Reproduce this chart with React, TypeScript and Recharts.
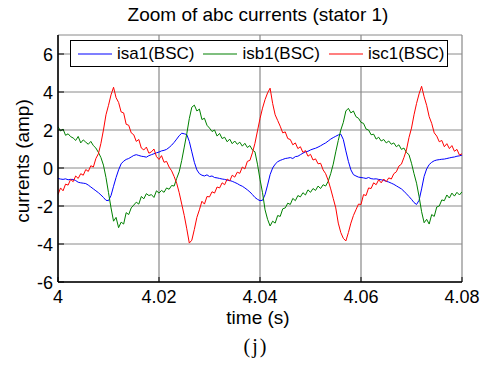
import React from 'react';
import { LineChart, Line, XAxis, YAxis, CartesianGrid } from 'recharts';

// sampling grid: 0.5 ms steps from 4.000 s to 4.080 s
const T_START = 4;
const T_STEP = 0.0005;

const xTicks = [4, 4.02, 4.04, 4.06, 4.08];
const yTicks = [-6, -4, -2, 0, 2, 4, 6];

const seriesNames = ['isa1(BSC)', 'isb1(BSC)', 'isc1(BSC)'];
const seriesColors = ['#0000ff', '#008000', '#ff0000'];

// phase a current (blue)
const isa1 = [
  -0.55, -0.58, -0.6, -0.57, -0.62, -0.6, -0.6, -0.66, -0.75, -0.78,
  -0.8, -0.82, -0.9, -1.0, -1.1, -1.2, -1.3, -1.42, -1.55, -1.7,
  -1.72, -1.45, -0.96, -0.5, -0.1, 0.22, 0.36, 0.45, 0.5, 0.58,
  0.66, 0.7, 0.66, 0.62, 0.6, 0.57, 0.65, 0.7, 0.75, 0.8,
  0.84, 0.9, 0.93, 0.98, 1.08, 1.2, 1.35, 1.52, 1.7, 1.83,
  1.8, 1.76, 1.4, 0.85, 0.3, -0.1, -0.3, -0.38, -0.42, -0.36,
  -0.45, -0.42, -0.5, -0.52, -0.55, -0.58, -0.6, -0.64, -0.66, -0.7,
  -0.76, -0.82, -0.9, -0.96, -1.05, -1.15, -1.26, -1.4, -1.55, -1.65,
  -1.72, -1.7, -1.4, -0.9, -0.35, 0.0, 0.2, 0.33, 0.4, 0.45,
  0.5, 0.52, 0.55, 0.5, 0.6, 0.62, 0.7, 0.78, 0.85, 0.88,
  0.95, 1.0, 1.04, 1.1, 1.17, 1.25, 1.32, 1.42, 1.52, 1.6,
  1.67, 1.74, 1.78, 1.5, 0.9, 0.35, -0.1, -0.35, -0.42, -0.48,
  -0.5, -0.52, -0.55, -0.5, -0.56, -0.58, -0.57, -0.6, -0.62, -0.65,
  -0.7, -0.74, -0.8, -0.86, -0.94, -1.02, -1.1, -1.22, -1.36, -1.5,
  -1.65, -1.82, -1.92, -1.7, -1.1, -0.44, -0.05, 0.18, 0.3, 0.38,
  0.42, 0.44, 0.46, 0.47, 0.5, 0.53, 0.56, 0.58, 0.62, 0.64,
  0.68,
];

// phase b current (green)
const isb1 = [
  2.18, 1.95, 2.05, 1.72, 1.8, 1.65, 1.58, 1.45, 1.66, 1.32,
  1.48, 1.36, 1.25, 1.4, 1.18, 1.05, 0.82, 0.55, 0.15, -0.5,
  -1.3, -2.1, -2.8, -2.6, -3.14, -2.85, -2.95, -2.35, -2.45, -2.1,
  -1.95, -1.8, -1.9, -1.5, -1.62, -1.35, -1.45, -1.4, -1.55, -1.2,
  -1.32, -1.18, -1.28, -1.05, -1.12, -0.92, -0.95, -0.55, -0.2, 0.4,
  1.1, 1.8, 2.6, 3.2, 3.31, 3.0, 3.1, 2.55, 2.62, 2.25,
  2.1, 1.92, 2.0, 1.68, 1.82, 1.55, 1.62, 1.38, 1.52, 1.28,
  1.42, 1.25, 1.36, 1.15, 1.3, 1.08, 1.18, 0.95, 0.85, 0.2,
  -0.6, -1.3, -2.2, -2.7, -3.05, -2.8, -2.9, -2.5, -2.55, -2.15,
  -2.1, -1.85, -1.92, -1.6, -1.72, -1.45, -1.52, -1.3, -1.42, -1.15,
  -1.28, -1.08, -1.18, -0.95, -1.08, -0.88, -0.95, -0.7, -0.3, 0.2,
  0.85, 1.45, 2.0, 2.4, 3.0, 3.14, 2.9, 3.0, 2.7, 2.62,
  2.4, 2.35, 2.05, 2.0, 1.75, 1.78, 1.52, 1.62, 1.42, 1.5,
  1.32, 1.42, 1.25, 1.32, 1.12, 1.22, 0.98, 1.05, 0.82, 0.7,
  0.25, -0.3, -0.8, -1.5, -2.3, -2.88, -2.7, -2.95, -2.45, -2.55,
  -2.05, -2.0, -1.68, -1.72, -1.42, -1.58, -1.32, -1.48, -1.28, -1.42,
  -1.25,
];

// phase c current (red)
const isc1 = [
  -1.4, -1.05, -1.2, -0.85, -0.9, -0.6, -0.72, -0.42, -0.55, -0.3,
  -0.38, -0.08, -0.18, 0.12, 0.05, 0.5, 0.75, 1.3, 2.0, 2.8,
  3.3, 3.85, 4.25, 3.7, 3.45, 2.95, 2.9, 2.3, 2.25, 1.85,
  1.75, 1.4, 1.5, 1.05, 0.95, 1.1, 0.78, 0.85, 1.0, 0.6,
  0.45, 0.65, 0.3, 0.35, 0.05, -0.15, -0.45, -0.8, -1.3, -1.9,
  -2.5, -3.2, -3.95, -3.8, -3.23, -2.6, -2.2, -1.75, -1.9, -1.5,
  -1.52, -1.25, -1.32, -1.0, -1.05, -0.78, -0.88, -0.58, -0.68, -0.38,
  -0.48, -0.22, -0.28, 0.05, -0.05, 0.35, 0.4, 0.8, 1.3, 1.95,
  2.6, 3.15, 3.6, 3.95, 4.2, 3.4, 2.8, 2.5, 2.2, 1.85,
  1.9, 1.55, 1.5, 1.22, 1.32, 1.02, 1.12, 0.82, 0.92, 0.62,
  0.72, 0.42, 0.48, 0.22, 0.25, -0.1, -0.3, -0.65, -1.1, -1.6,
  -2.1, -2.9, -3.4, -3.7, -3.84, -3.4, -2.9, -2.5, -2.2, -1.9,
  -1.92, -1.4, -1.45, -1.05, -1.08, -0.78, -0.88, -0.62, -0.78, -0.58,
  -0.72, -0.52, -0.58, -0.3, -0.2, 0.1, 0.2, 0.55, 0.95, 1.6,
  2.1, 2.8, 3.4, 3.9, 4.3, 3.75, 3.3, 2.7, 2.35, 1.85,
  1.68, 1.38, 1.45, 1.12, 1.28, 1.02, 1.18, 0.88, 0.98, 0.68,
  0.75,
];

const chartData = isa1.map((v, i) => ({
  t: T_START + i * T_STEP,
  isa1: v,
  isb1: isb1[i],
  isc1: isc1[i],
}));

const FONT = '"Liberation Sans", Arial, sans-serif';

const fmtX = (v: number) => (Math.abs(v - 4) < 1e-9 ? '4' : v.toFixed(2));

// bottom axis: label below, small tick pointing up into the plot
const BottomTick = (props: any) => {
  const { x, y, payload } = props;
  const axisY = y - 8;
  return (
    <g>
      <line x1={x} x2={x} y1={axisY} y2={axisY - 5} stroke="#000" />
      <text x={x} y={y + 13} textAnchor="middle" fontFamily={FONT} fontSize={18} fill="#000">
        {fmtX(payload.value)}
      </text>
    </g>
  );
};

const LeftTick = (props: any) => {
  const { x, y, payload } = props;
  const axisX = x + 5;
  return (
    <g>
      <line x1={axisX} x2={axisX + 6} y1={y} y2={y} stroke="#000" />
      <text x={x} y={y + 6.5} textAnchor="end" fontFamily={FONT} fontSize={18} fill="#000">
        {payload.value}
      </text>
    </g>
  );
};

const RightTick = (props: any) => (
  <line x1={props.x} x2={props.x - 6} y1={props.y} y2={props.y} stroke="#000" />
);

const TopTick = (props: any) => (
  <line x1={props.x} x2={props.x} y1={props.y} y2={props.y + 6} stroke="#000" />
);

const XLabel = () => (
  <text x={258} y={324} textAnchor="middle" fontFamily={FONT} fontSize={19} fill="#000">
    time (s)
  </text>
);

const YLabel = () => (
  <text
    x={29}
    y={161}
    transform="rotate(-90 29 161)"
    textAnchor="middle"
    fontFamily={FONT}
    fontSize={19}
    fill="#000"
  >
    currents (amp)
  </text>
);

// MATLAB-style legend box sitting over the top of the axes
const LegendBox = () => (
  <div
    style={{
      position: 'absolute',
      left: 70,
      top: 40,
      zIndex: 10,
      boxSizing: 'border-box',
      width: 378,
      height: 27,
      border: '1px solid #000',
      background: '#fff',
      display: 'flex',
      alignItems: 'center',
      paddingLeft: 7,
      fontFamily: FONT,
      fontSize: 17,
      color: '#000',
    }}
  >
    {seriesNames.map((name, i) => (
      <span key={name} style={{ display: 'flex', alignItems: 'center', marginRight: 9 }}>
        <svg width={34} height={4} style={{ display: 'block' }}>
          <line x1={0} x2={34} y1={2} y2={2} stroke={seriesColors[i]} strokeWidth={1.2} />
        </svg>
        <span style={{ marginLeft: 5, whiteSpace: 'nowrap' }}>{name}</span>
      </span>
    ))}
  </div>
);

export default function App() {
  return (
    <div style={{ position: 'absolute', left: 0, top: 0, width: 488, height: 365, background: '#fff' }}>
      <div
        style={{
          position: 'absolute',
          left: 258,
          top: 5,
          transform: 'translateX(-50%)',
          fontFamily: FONT,
          fontSize: 19,
          lineHeight: '19px',
          whiteSpace: 'nowrap',
          color: '#000',
        }}
      >
        Zoom of abc currents (stator 1)
      </div>
      <LineChart width={488} height={365} data={chartData} margin={{ top: 35, right: 26, bottom: 0, left: 0 }}>
        <CartesianGrid horizontal={false} stroke="#b8b8b8" strokeWidth={2} />
        <CartesianGrid vertical={false} stroke="#8a8a8a" strokeWidth={1} />
        <XAxis
          dataKey="t"
          type="number"
          domain={[4, 4.08]}
          ticks={xTicks}
          interval={0}
          allowDataOverflow
          height={83}
          tickSize={0}
          tickMargin={8}
          tick={<BottomTick />}
          axisLine={{ stroke: '#000', strokeWidth: 1.5 }}
          label={<XLabel />}
        />
        <XAxis
          xAxisId="top"
          orientation="top"
          type="number"
          domain={[4, 4.08]}
          ticks={xTicks}
          interval={0}
          allowDataOverflow
          height={0}
          tickSize={0}
          tickMargin={0}
          tick={<TopTick />}
          axisLine={{ stroke: '#000', strokeWidth: 1 }}
        />
        <YAxis
          type="number"
          domain={[-6, 7]}
          ticks={yTicks}
          interval={0}
          allowDataOverflow
          width={58}
          tickSize={0}
          tickMargin={5}
          tick={<LeftTick />}
          axisLine={{ stroke: '#000', strokeWidth: 1.5 }}
          label={<YLabel />}
        />
        <YAxis
          yAxisId="right"
          orientation="right"
          type="number"
          domain={[-6, 7]}
          ticks={yTicks}
          interval={0}
          allowDataOverflow
          width={0}
          tickSize={0}
          tickMargin={0}
          tick={<RightTick />}
          axisLine={{ stroke: '#000', strokeWidth: 1 }}
        />
        <Line type="linear" dataKey="isa1" name={seriesNames[0]} stroke={seriesColors[0]} strokeWidth={1} dot={false} activeDot={false} isAnimationActive={false} />
        <Line type="linear" dataKey="isb1" name={seriesNames[1]} stroke={seriesColors[1]} strokeWidth={1} dot={false} activeDot={false} isAnimationActive={false} />
        <Line type="linear" dataKey="isc1" name={seriesNames[2]} stroke={seriesColors[2]} strokeWidth={1} dot={false} activeDot={false} isAnimationActive={false} />
      </LineChart>
      <LegendBox />
      <div
        style={{
          position: 'absolute',
          left: 256,
          top: 336,
          transform: 'translateX(-50%)',
          fontFamily: '"Liberation Serif", "Times New Roman", serif',
          fontSize: 20,
          lineHeight: '20px',
          letterSpacing: 2,
          whiteSpace: 'nowrap',
          color: '#000',
        }}
      >
        (j)
      </div>
    </div>
  );
}
